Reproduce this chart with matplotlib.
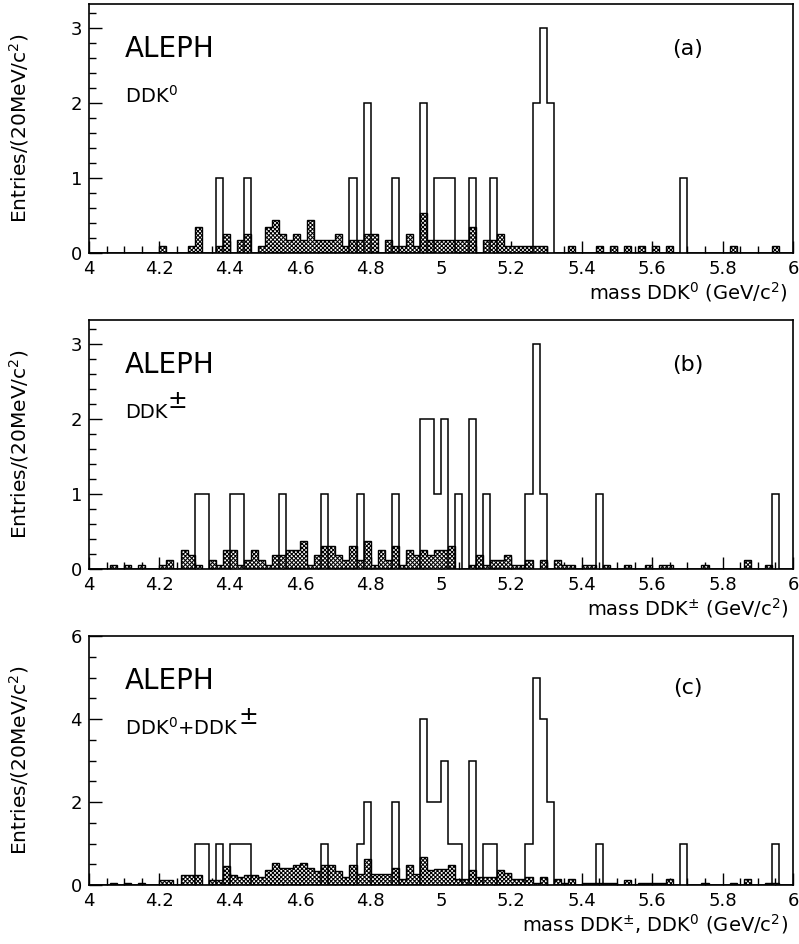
import numpy as np
import matplotlib
matplotlib.use("Agg")
import matplotlib.pyplot as plt
from matplotlib.ticker import MultipleLocator, FormatStrFormatter

plt.rcParams['font.family'] = ['DejaVu Sans']
plt.rcParams['mathtext.default'] = 'regular'
plt.rcParams['hatch.linewidth'] = 0.75

# binning: 20 MeV bins from 4 to 6 GeV
edges = np.round(np.arange(4.0, 6.0001, 0.02), 2)

# ---- panel (a) DDK0 ----
a_open_x = [4.36, 4.44, 4.74, 4.78, 4.86, 4.94, 4.98, 5.00, 5.02, 5.08, 5.14,
            5.26, 5.28, 5.30, 5.68]
a_open_n = [1, 1, 1, 2, 1, 2, 1, 1, 1, 1, 1, 2, 3, 2, 1]
a_bkg_x = [4.20, 4.28, 4.30, 4.36, 4.38, 4.42, 4.44, 4.48, 4.50, 4.52, 4.54,
           4.56, 4.58, 4.60, 4.62, 4.64, 4.66, 4.68, 4.70, 4.72, 4.74, 4.76,
           4.78, 4.80, 4.84, 4.86, 4.88, 4.90, 4.92, 4.94, 4.96, 4.98, 5.00,
           5.02, 5.04, 5.06, 5.08, 5.12, 5.14, 5.16, 5.18, 5.20, 5.22, 5.24,
           5.26, 5.28, 5.36, 5.44, 5.48, 5.52, 5.56, 5.60, 5.64, 5.82, 5.94]
a_bkg_n = [0.09, 0.09, 0.35, 0.09, 0.26, 0.18, 0.26, 0.09, 0.35, 0.44, 0.26,
           0.18, 0.26, 0.18, 0.44, 0.18, 0.18, 0.18, 0.26, 0.09, 0.18, 0.18,
           0.26, 0.26, 0.18, 0.09, 0.09, 0.26, 0.09, 0.53, 0.18, 0.18, 0.18,
           0.18, 0.18, 0.18, 0.35, 0.18, 0.18, 0.26, 0.09, 0.09, 0.09, 0.09,
           0.09, 0.09, 0.09, 0.09, 0.09, 0.09, 0.09, 0.09, 0.09, 0.09, 0.09]

# ---- panel (b) DDK+- ----
b_open_x = [4.30, 4.32, 4.40, 4.42, 4.54, 4.66, 4.76, 4.86, 4.94, 4.96, 4.98,
            5.00, 5.04, 5.08, 5.12, 5.24, 5.26, 5.28, 5.44, 5.94]
b_open_n = [1, 1, 1, 1, 1, 1, 1, 1, 2, 2, 1, 2, 1, 2, 1, 1, 3, 1, 1, 1]
b_bkg_x = [4.06, 4.10, 4.14, 4.20, 4.22, 4.26, 4.28, 4.30, 4.34, 4.36, 4.38,
           4.40, 4.42, 4.44, 4.46, 4.48, 4.50, 4.52, 4.54, 4.56, 4.58, 4.60,
           4.62, 4.64, 4.66, 4.68, 4.70, 4.72, 4.74, 4.76, 4.78, 4.80, 4.82,
           4.84, 4.86, 4.88, 4.90, 4.92, 4.94, 4.96, 4.98, 5.00, 5.02, 5.08,
           5.10, 5.12, 5.14, 5.16, 5.18, 5.20, 5.22, 5.24, 5.28, 5.32, 5.34,
           5.36, 5.40, 5.42, 5.46, 5.52, 5.58, 5.62, 5.64, 5.74, 5.86, 5.92]
b_bkg_n = [0.06, 0.06, 0.06, 0.06, 0.125, 0.25, 0.19, 0.06, 0.125, 0.06, 0.25,
           0.25, 0.06, 0.125, 0.25, 0.125, 0.06, 0.19, 0.19, 0.25, 0.25, 0.375,
           0.06, 0.19, 0.31, 0.31, 0.19, 0.125, 0.31, 0.125, 0.375, 0.06, 0.25,
           0.125, 0.31, 0.06, 0.25, 0.19, 0.25, 0.19, 0.25, 0.25, 0.31, 0.06,
           0.19, 0.06, 0.125, 0.125, 0.19, 0.06, 0.06, 0.125, 0.125, 0.125, 0.06,
           0.06, 0.06, 0.06, 0.06, 0.06, 0.06, 0.06, 0.06, 0.06, 0.125, 0.06]

# ---- panel (c) sum ----
c_open_x = [4.30, 4.32, 4.36, 4.40, 4.42, 4.44, 4.66, 4.76, 4.78, 4.86, 4.94,
            4.96, 4.98, 5.00, 5.02, 5.04, 5.08, 5.12, 5.14, 5.24, 5.26, 5.28,
            5.30, 5.44, 5.68, 5.94]
c_open_n = [1, 1, 1, 1, 1, 1, 1, 1, 2, 2, 4, 2, 2, 3, 1, 1, 3, 1, 1, 1, 5, 4,
            2, 1, 1, 1]
c_bkg_x = [4.06, 4.10, 4.14, 4.20, 4.22, 4.26, 4.28, 4.30, 4.34, 4.36, 4.38,
           4.40, 4.42, 4.44, 4.46, 4.48, 4.50, 4.52, 4.54, 4.56, 4.58, 4.60,
           4.62, 4.64, 4.66, 4.68, 4.70, 4.72, 4.74, 4.76, 4.78, 4.80, 4.82,
           4.84, 4.86, 4.88, 4.90, 4.92, 4.94, 4.96, 4.98, 5.00, 5.02, 5.04,
           5.06, 5.08, 5.10, 5.12, 5.14, 5.16, 5.18, 5.20, 5.22, 5.24, 5.26,
           5.28, 5.32, 5.34, 5.36, 5.40, 5.42, 5.44, 5.46, 5.48, 5.52, 5.56,
           5.58, 5.60, 5.62, 5.64, 5.74, 5.82, 5.86, 5.92, 5.94]
c_bkg_n = [0.06, 0.06, 0.06, 0.125, 0.125, 0.25, 0.25, 0.25, 0.125, 0.125, 0.46,
           0.25, 0.19, 0.25, 0.25, 0.19, 0.35, 0.54, 0.41, 0.41, 0.47, 0.54,
           0.41, 0.33, 0.47, 0.47, 0.33, 0.2, 0.47, 0.27, 0.62, 0.27, 0.27,
           0.27, 0.41, 0.14, 0.47, 0.27, 0.68, 0.35, 0.39, 0.39, 0.47, 0.14,
           0.14, 0.35, 0.2, 0.2, 0.2, 0.35, 0.28, 0.14, 0.14, 0.2, 0.06,
           0.2, 0.14, 0.06, 0.14, 0.06, 0.06, 0.06, 0.06, 0.06, 0.12, 0.06,
           0.06, 0.06, 0.06, 0.14, 0.06, 0.06, 0.14, 0.06, 0.06]

# channel label: text part + whether a big "±" follows it
panels = [
    (a_open_x, a_open_n, a_bkg_x, a_bkg_n, 3.32, 1, 0.2,
     'DDK$^{0}$', False, '(a)', 'mass DDK$^{0}$ (GeV/c$^{2}$)'),
    (b_open_x, b_open_n, b_bkg_x, b_bkg_n, 3.32, 1, 0.2,
     'DDK', True, '(b)', 'mass DDK$^{\\pm}$ (GeV/c$^{2}$)'),
    (c_open_x, c_open_n, c_bkg_x, c_bkg_n, 6.0, 2, 0.5,
     'DDK$^{0}$+DDK', True, '(c)', 'mass DDK$^{\\pm}$, DDK$^{0}$ (GeV/c$^{2}$)'),
]


def fill_bins(xs, ns):
    h = np.zeros(len(edges) - 1)
    for x, n in zip(xs, ns):
        h[int(round((x - 4.0) / 0.02))] = n
    return h


W, H = 799, 944
fig = plt.figure(figsize=(W / 100, H / 100), dpi=100)

tops = [4, 320, 636]
for (ox, on, bx, bn, ymax, ymaj, ymin, chan, pm, tag, xlab), top in zip(panels, tops):
    ax = fig.add_axes([89 / W, 1 - (top + 249) / H, 704 / W, 249 / H])
    h_open = fill_bins(ox, on)
    h_bkg = fill_bins(bx, bn)

    # hatched background, open histogram on top
    ax.stairs(h_bkg, edges, fill=True, facecolor='white', edgecolor='black',
              hatch='xxxxxxxx', linewidth=1.0, zorder=2)
    ax.stairs(h_open, edges, color='black', linewidth=1.1, baseline=0, zorder=3)

    ax.set_xlim(4, 6)
    ax.set_ylim(0, ymax)
    ax.xaxis.set_major_locator(MultipleLocator(0.2))
    ax.xaxis.set_minor_locator(MultipleLocator(0.05))
    ax.xaxis.set_major_formatter(FormatStrFormatter('%g'))
    ax.yaxis.set_major_locator(MultipleLocator(ymaj))
    ax.yaxis.set_minor_locator(MultipleLocator(ymin))
    ax.tick_params(which='both', direction='in', top=False, right=False,
                   labelsize=13, width=1)
    ax.tick_params(which='major', length=9, pad=5)
    ax.tick_params(which='minor', length=5)
    for s in ax.spines.values():
        s.set_linewidth(1.2)

    ax.text(0.051, 0.82, 'ALEPH', transform=ax.transAxes, fontsize=20,
            ha='left', va='center')
    t = ax.text(0.051, 0.63, chan, transform=ax.transAxes, fontsize=14,
                ha='left', va='center')
    if pm:
        ax.annotate('±', xy=(1.0, 0.45), xycoords=t, fontsize=17,
                    ha='left', va='bottom')
    ax.text(0.85, 0.82 if tag != '(c)' else 0.79, tag, transform=ax.transAxes,
            fontsize=16, ha='center', va='center')
    ax.text(0.993, -0.155, xlab, transform=ax.transAxes, fontsize=14,
            ha='right', va='center')
    ax.text(-0.1, 0.5, 'Entries/(20MeV/c$^{2}$)', transform=ax.transAxes,
            fontsize=14.5, rotation=90, ha='center', va='center')

fig.savefig('out.png', dpi=100)
